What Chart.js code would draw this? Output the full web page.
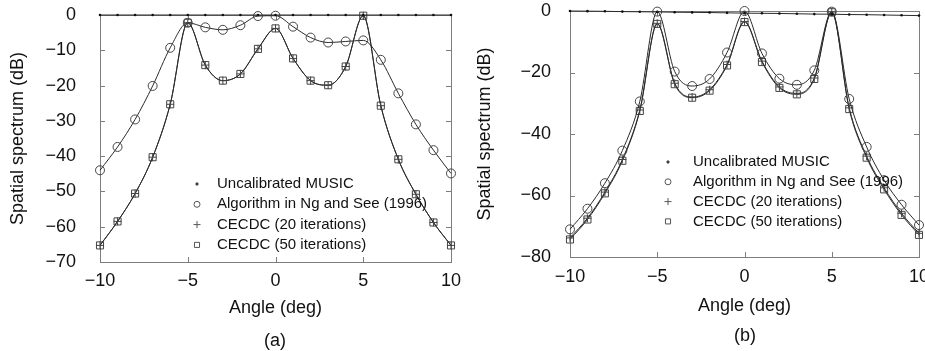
<!DOCTYPE html>
<html>
<head>
<meta charset="utf-8">
<script src="https://cdn.jsdelivr.net/npm/chart.js@4.4.0/dist/chart.umd.min.js"></script>
<style>
  html, body { margin: 0; padding: 0; background: #fff; }
  body { width: 925px; height: 351px; position: relative; overflow: hidden; font-family: "Liberation Sans", Arial, sans-serif; }
  canvas { position: absolute; top: 0; }
  #panelA { left: 0; }
  #panelB { left: 460px; }
  .caption { position: absolute; font-size: 18px; color: #111; transform: translate(-50%, -50%); line-height: 1; }
</style>
</head>
<body>
<canvas id="panelA" width="470" height="351"></canvas>
<canvas id="panelB" width="470" height="351"></canvas>
<div class="caption" style="left:275px; top:340px">(a)</div>
<div class="caption" style="left:745px; top:335px">(b)</div>
<script>
// angles (deg) where the markers sit
const angles = [-10, -9, -8, -7, -6, -5, -4, -3, -2, -1, 0, 1, 2, 3, 4, 5, 6, 7, 8, 9, 10];

const seriesLabels = ['Uncalibrated MUSIC', 'Algorithm in Ng and See (1996)', 'CECDC (20 iterations)', 'CECDC (50 iterations)'];

// tick labels
const xTicks = [-10, -5, 0, 5, 10];
const yTicksA = [0, -10, -20, -30, -40, -50, -60, -70];
const yTicksB = [0, -20, -40, -60, -80];

// === panel (a) ===
const musicA   = [0, 0, 0, 0, 0, 0, 0, 0, 0, 0, 0, 0, 0, 0, 0, 0, 0, 0, 0, 0, 0];
const ngSeeA   = [-44, -37.4, -29.6, -20.1, -9.3, -2.2, -3.5, -4.2, -2.9, -0.3, -0.2, -3.3, -6.4, -7.8, -7.5, -7.2, -12.7, -22.2, -31, -38.3, -44.9];
const cecdc20A = [-65.3, -58.5, -50.6, -40.3, -25.3, -2.2, -14.2, -18.6, -16.7, -9.6, -3.8, -12.3, -18.6, -19.9, -14.6, -0.2, -25.7, -40.9, -50.8, -58.8, -65.3];
const cecdc50A = [-65.3, -58.5, -50.6, -40.3, -25.3, -2.2, -14.2, -18.6, -16.7, -9.6, -3.8, -12.3, -18.6, -19.9, -14.6, -0.2, -25.7, -40.9, -50.8, -58.8, -65.3];

// === panel (b) ===
const musicB   = [0, -0.05, -0.1, -0.2, -0.25, -0.3, -0.4, -0.45, -0.5, -0.6, -0.7, -0.75, -0.8, -0.9, -1.0, -1.05, -1.15, -1.2, -1.3, -1.4, -1.5];
const ngSeeB   = [-71, -64.3, -56, -45.4, -29.4, -0.2, -19.7, -24.4, -22.1, -13.5, 0, -13.8, -22, -24, -19.3, -0.2, -28.6, -44.2, -55, -63, -69.6];
const cecdc20B = [-73.8, -67.4, -58.9, -48.3, -32.2, -4.0, -23.5, -28.0, -25.6, -17.4, -3.4, -16.3, -24.7, -26.8, -21.8, -0.3, -31.5, -47.2, -57.5, -65.8, -72.3];
const cecdc50B = [-74.3, -67.8, -59.3, -48.7, -32.5, -4.2, -23.8, -28.2, -25.9, -17.7, -3.6, -16.6, -25.0, -27.1, -22.1, -0.4, -31.9, -47.7, -58, -66.3, -72.8];

const FONT = '"Liberation Sans", Arial, sans-serif';
const minus = v => (v < 0 ? '\u2212' + Math.abs(v) : String(v));
const pts = vals => angles.map((a, i) => ({ x: a, y: vals[i] }));

// frame with inward ticks on all four sides
const framePlugin = {
  id: 'frame',
  beforeDatasetsDraw(chart) {
    const { ctx, chartArea: a, scales } = chart;
    const len = 5;
    ctx.save();
    ctx.strokeStyle = '#7d7d7d';
    ctx.lineWidth = 1;
    ctx.strokeRect(Math.round(a.left) + 0.5, Math.round(a.top) + 0.5, Math.round(a.right - a.left), Math.round(a.bottom - a.top));
    ctx.beginPath();
    scales.x.ticks.forEach(t => {
      const px = Math.round(scales.x.getPixelForValue(t.value)) + 0.5;
      ctx.moveTo(px, a.bottom); ctx.lineTo(px, a.bottom - len);
      ctx.moveTo(px, a.top); ctx.lineTo(px, a.top + len);
    });
    scales.y.ticks.forEach(t => {
      const py = Math.round(scales.y.getPixelForValue(t.value)) + 0.5;
      ctx.moveTo(a.left, py); ctx.lineTo(a.left + len, py);
      ctx.moveTo(a.right, py); ctx.lineTo(a.right - len, py);
    });
    ctx.stroke();
    ctx.restore();
  }
};

// legend drawn inside the plot area
const insideLegend = {
  id: 'insideLegend',
  afterDraw(chart, args, opts) {
    const { ctx, chartArea: a } = chart;
    ctx.save();
    ctx.font = '15px ' + FONT;
    ctx.textBaseline = 'middle';
    chart.data.datasets.forEach((ds, i) => {
      const y = a.top + opts.y + i * opts.gap;
      const mx = a.left + opts.x;
      ctx.strokeStyle = '#555';
      ctx.fillStyle = ds.pointStyle === 'circle' && ds.pointRadius < 2 ? '#111' : 'rgba(0,0,0,0)';
      Chart.helpers.drawPoint(ctx, {
        pointStyle: ds.pointStyle,
        radius: ds.legendRadius,
        rotation: 0,
        borderWidth: 1
      }, mx, y);
      ctx.fillStyle = '#111';
      ctx.fillText(ds.label, a.left + opts.textX, y);
    });
    ctx.restore();
  }
};

function makeDatasets(music, ngSee, c20, c50) {
  const base = {
    borderColor: '#2a2a2a',
    borderWidth: 1,
    pointBorderColor: '#444',
    pointBorderWidth: 1,
    pointBackgroundColor: 'rgba(0,0,0,0)',
    cubicInterpolationMode: 'monotone',
    clip: false
  };
  return [
    Object.assign({}, base, { label: seriesLabels[0], data: pts(music), pointStyle: 'circle', pointRadius: 1.3, pointBorderWidth: 0, pointBackgroundColor: '#111', legendRadius: 1.2 }),
    Object.assign({}, base, { label: seriesLabels[1], data: pts(ngSee), pointStyle: 'circle', pointRadius: 4.5, legendRadius: 3 }),
    Object.assign({}, base, { label: seriesLabels[2], data: pts(c20), pointStyle: 'cross', pointRadius: 4, legendRadius: 3.5 }),
    Object.assign({}, base, { label: seriesLabels[3], data: pts(c50), pointStyle: 'rect', pointRadius: 5, legendRadius: 3.6 })
  ];
}

// tick marks themselves are drawn by framePlugin; the (hidden) tickLength only offsets the labels
function makePanel(id, datasets, yTicks, cfg) {
  new Chart(document.getElementById(id), {
    type: 'line',
    data: { datasets },
    options: {
      responsive: false,
      animation: false,
      layout: { padding: cfg.padding },
      plugins: {
        legend: { display: false },
        tooltip: { enabled: false },
        insideLegend: cfg.legend
      },
      scales: {
        x: {
          type: 'linear',
          min: xTicks[0],
          max: xTicks[xTicks.length - 1],
          afterBuildTicks: s => { s.ticks = xTicks.map(v => ({ value: v })); },
          afterFit: s => { s.height = cfg.xHeight; },
          grid: { display: false, drawTicks: true, tickLength: cfg.xOffset, color: 'rgba(0,0,0,0)' },
          border: { display: false },
          ticks: { padding: 0, color: '#111', font: { family: FONT, size: 18 }, maxRotation: 0, callback: minus },
          title: { display: true, text: 'Angle (deg)', color: '#111', font: { family: FONT, size: 18 }, padding: { top: 0, bottom: cfg.xTitlePad } }
        },
        y: {
          min: yTicks[yTicks.length - 1],
          max: yTicks[0],
          afterBuildTicks: s => { s.ticks = yTicks.slice().reverse().map(v => ({ value: v })); },
          afterFit: s => { s.width = cfg.yWidth; },
          grid: { display: false, drawTicks: true, tickLength: cfg.yOffset, color: 'rgba(0,0,0,0)' },
          border: { display: false },
          ticks: { padding: 0, color: '#111', font: { family: FONT, size: 18 }, callback: minus },
          title: { display: true, text: 'Spatial spectrum (dB)', color: '#111', font: { family: FONT, size: 18 }, padding: { top: cfg.yTitlePad, bottom: 0 } }
        }
      }
    },
    plugins: [framePlugin, insideLegend]
  });
}

makePanel('panelA', makeDatasets(musicA, ngSeeA, cecdc20A, cecdc50A), yTicksA, {
  padding: { top: 15, right: 19, bottom: 30, left: 0 },
  yWidth: 100, xHeight: 59,
  xOffset: 8, yOffset: 24, xTitlePad: 2, yTitlePad: 7.5,
  legend: { x: 97, y: 169, gap: 20.3, textX: 117 }
});

makePanel('panelB', makeDatasets(musicB, ngSeeB, cecdc20B, cecdc50B), yTicksB, {
  padding: { top: 11, right: 11, bottom: 30, left: 0 },
  yWidth: 110, xHeight: 64,
  xOffset: 9, yOffset: 19, xTitlePad: 4, yTitlePad: 14,
  legend: { x: 98, y: 151, gap: 19.8, textX: 123 }
});
</script>
</body>
</html>
